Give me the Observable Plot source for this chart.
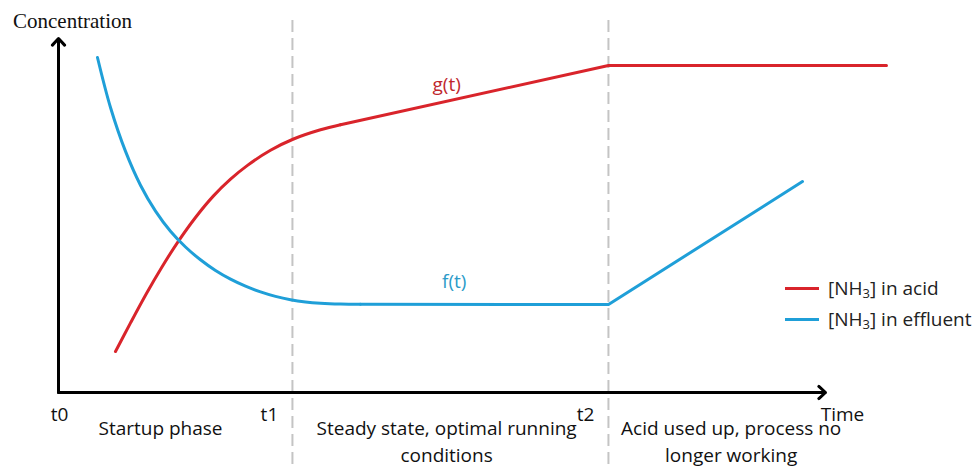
<!DOCTYPE html>
<html><head><meta charset="utf-8">
<script src="https://cdn.jsdelivr.net/npm/d3@7"></script>
<script src="https://cdn.jsdelivr.net/npm/@observablehq/plot@0.6"></script>
<style>
body{margin:0;background:#fff}
#wrap{position:relative;width:974px;height:470px;overflow:hidden}
.legend{position:absolute;left:785px;top:273px;font-family:"Open Sans",Lato,sans-serif;font-size:19px;color:#222}
.legend .row{display:flex;align-items:center;height:31px}
.legend .sw{width:34px;height:3px;margin-right:9px}
</style></head><body><div id="wrap"></div>
<script>
// Phase boundaries (time units)
const phaseTimes = [3.05, 7.17];
const tickLabels = ["t0", "t1", "t2"];
const tickTimes = [0, 3.05, 7.17];

// [NH3] in acid, g(t): curved startup section, then linear rise, then plateau
const acidStartT = [0.743, 0.939, 1.147, 1.343, 1.551, 1.786, 2.021, 2.243, 2.464, 2.764, 3.064, 3.416, 3.677];
const acidStartC = [1.158, 1.966, 2.797, 3.525, 4.234, 4.944, 5.554, 6.025, 6.415, 6.842, 7.161, 7.421, 7.565];
const acidLinT = [3.677, 7.171, 10.795];
const acidLinC = [7.565, 9.237, 9.237];

// [NH3] in effluent, f(t): decaying startup section, flat steady state, then linear rise
const effStartT = [0.508, 0.678, 0.874, 1.069, 1.265, 1.460, 1.656, 1.851, 2.047, 2.243, 2.438, 2.634, 2.829, 3.025, 3.220, 3.416, 3.677, 3.937];
const effStartC = [9.463, 8.051, 6.811, 5.856, 5.124, 4.556, 4.110, 3.749, 3.446, 3.201, 3.003, 2.842, 2.715, 2.621, 2.559, 2.523, 2.500, 2.494];
const effLinT = [3.937, 7.171, 9.700];
const effLinC = [2.494, 2.486, 5.960];

const phaseLabels = ["Startup phase", "Steady state, optimal running\nconditions", "Acid used up, process no\nlonger working"];
const phaseCenters = [1.33, 5.06, 8.77];

const seriesNames = ["[NH₃] in acid", "[NH₃] in effluent"];
const colors = ["#d9242b", "#1f9fd8"];

const pts = (T, C) => T.map((t, i) => ({t, c: C[i]}));
const sans = "'Open Sans', Lato, sans-serif";
const fs = 19;

const plot = Plot.plot({
  width: 974, height: 470,
  marginTop: 20, marginBottom: 0, marginLeft: 0, marginRight: 0,
  x: {domain: [0, 10], range: [58, 825], axis: null},
  y: {domain: [0, 10], range: [392, 38], axis: null},
  style: {fontFamily: sans, fontSize: fs + "px", background: "#fff"},
  marks: [
    Plot.ruleX(phaseTimes, {stroke: "#c4c4c4", strokeWidth: 2, strokeDasharray: "12,6"}),
    Plot.arrow([{x1: 0, y1: 0, x2: 10, y2: 0}, {x1: 0, y1: 0, x2: 0, y2: 10}],
      {x1: "x1", y1: "y1", x2: "x2", y2: "y2", stroke: "#000", strokeWidth: 3, headLength: 4.5, headAngle: 85}),
    Plot.line(pts(acidStartT, acidStartC), {x: "t", y: "c", stroke: colors[0], strokeWidth: 3, curve: "catmull-rom"}),
    Plot.line(pts(acidLinT, acidLinC), {x: "t", y: "c", stroke: colors[0], strokeWidth: 3}),
    Plot.line(pts(effStartT, effStartC), {x: "t", y: "c", stroke: colors[1], strokeWidth: 3, curve: "catmull-rom"}),
    Plot.line(pts(effLinT, effLinC), {x: "t", y: "c", stroke: colors[1], strokeWidth: 3}),
    Plot.text(["g(t)"], {x: 5.06, y: 8.91, lineAnchor: "top", fill: "#c0272d", fontSize: fs}),
    Plot.text(["f(t)"], {x: 5.16, y: 3.32, lineAnchor: "top", fill: "#2b9bc9", fontSize: fs}),
    Plot.text([tickLabels[0]], {x: tickTimes[0], y: -0.41, dx: 1, lineAnchor: "top", fill: "#111"}),
    Plot.text(tickLabels.slice(1), {x: (d, i) => tickTimes[i + 1], y: -0.41, dx: -23, lineAnchor: "top", fill: "#111"}),
    Plot.text(["Time"], {x: 10, y: -0.41, dx: 17, lineAnchor: "top", fill: "#111"}),
    Plot.text(phaseLabels, {x: (d, i) => phaseCenters[i], y: -0.67, lineAnchor: "top", lineHeight: 1.42, fill: "#111"}),
    Plot.text(["Concentration"], {x: 0, y: 10, dx: 14, dy: -11, lineAnchor: "bottom", fontFamily: "'Liberation Serif', 'Times New Roman', serif", fontSize: 21, fill: "#111"})
  ]
});
const wrap = document.getElementById("wrap");
wrap.appendChild(plot);
const leg = document.createElement("div");
leg.className = "legend";
seriesNames.forEach((n, i) => {
  const row = document.createElement("div");
  row.className = "row";
  const sw = document.createElement("span");
  sw.className = "sw"; sw.style.background = colors[i];
  const tx = document.createElement("span");
  tx.innerHTML = n.replace("₃", "<sub style='font-size:13px;vertical-align:-3px'>3</sub>");
  row.appendChild(sw); row.appendChild(tx);
  leg.appendChild(row);
});
wrap.appendChild(leg);
</script>
</body></html>
